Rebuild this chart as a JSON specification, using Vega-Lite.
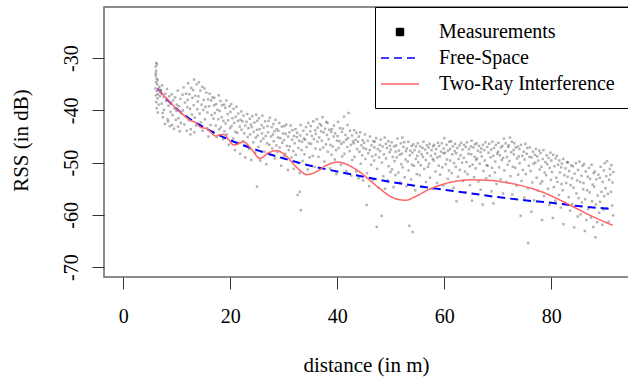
{
  "$schema": "https://vega.github.io/schema/vega-lite/v6.json",
  "autosize": {"type": "none"},
  "padding": {"left": 104, "top": 7, "right": 0, "bottom": 103},
  "width": 525,
  "height": 270,
  "background": "white",
  "config": {
    "font": "Liberation Serif",
    "view": {"stroke": "#666", "strokeWidth": 1.5},
    "legend": {
      "orient": "top-right", "offset": 0, "padding": 14,
      "strokeColor": "black", "fillColor": "white", "cornerRadius": 0,
      "labelFont": "Liberation Serif", "labelFontSize": 20, "labelColor": "black",
      "labelOffset": 28, "labelLimit": 400, "rowPadding": 5,
      "symbolSize": 400, "symbolStrokeWidth": 1.5, "symbolOpacity": 1
    }
  },
  "datasets": {
    "pts": [
      {"d":6.05,"r":-31.6},{"d":6.12,"r":-32.4},{"d":6.08,"r":-33.3},{"d":6.21,"r":-33.9},{"d":6.15,"r":-34.6},{"d":6.33,"r":-35.0},{"d":6.02,"r":-35.8},{"d":6.27,"r":-36.3},{"d":6.11,"r":-37.1},{"d":6.38,"r":-37.7},{"d":6.18,"r":-38.4},{"d":6.44,"r":-34.2},{"d":6.52,"r":-36.9},{"d":6.07,"r":-32.9},{"d":6.61,"r":-38.9},{"d":6.24,"r":-39.6},{"d":6.73,"r":-35.5},{"d":6.86,"r":-37.3},{"d":6.47,"r":-40.4},{"d":6.95,"r":-36.2},{"d":6.3,"r":-31.2},{"d":6.16,"r":-30.9},
      {"d":7.04,"r":-36.1},{"d":7.18,"r":-38.7},{"d":7.27,"r":-35.2},{"d":7.41,"r":-41.3},{"d":7.55,"r":-37.4},{"d":7.63,"r":-39.9},{"d":7.79,"r":-42.6},{"d":7.88,"r":-36.8},{"d":7.35,"r":-40.5},
      {"d":8.03,"r":-38.2},{"d":8.17,"r":-35.9},{"d":8.29,"r":-41.7},{"d":8.46,"r":-39.1},{"d":8.58,"r":-37.3},{"d":8.71,"r":-43.0},{"d":8.84,"r":-40.3},{"d":8.93,"r":-38.6},{"d":8.38,"r":-42.1},
      {"d":9.06,"r":-36.9},{"d":9.22,"r":-40.9},{"d":9.31,"r":-38.1},{"d":9.48,"r":-43.5},{"d":9.57,"r":-39.6},{"d":9.69,"r":-37.5},{"d":9.82,"r":-41.8},{"d":9.95,"r":-40.1},{"d":9.14,"r":-42.8},
      {"d":10.02,"r":-38.9},{"d":10.19,"r":-36.2},{"d":10.33,"r":-41.5},{"d":10.41,"r":-39.2},{"d":10.56,"r":-44.0},{"d":10.68,"r":-37.8},{"d":10.77,"r":-42.4},{"d":10.91,"r":-40.6},{"d":10.24,"r":-43.1},
      {"d":11.08,"r":-37.0},{"d":11.16,"r":-40.0},{"d":11.29,"r":-35.6},{"d":11.43,"r":-42.7},{"d":11.52,"r":-38.5},{"d":11.66,"r":-41.1},{"d":11.74,"r":-36.8},{"d":11.87,"r":-43.9},{"d":11.97,"r":-39.4},
      {"d":12.03,"r":-38.0},{"d":12.14,"r":-34.8},{"d":12.26,"r":-41.9},{"d":12.37,"r":-36.9},{"d":12.49,"r":-39.7},{"d":12.62,"r":-43.6},{"d":12.71,"r":-35.7},{"d":12.85,"r":-40.8},{"d":12.93,"r":-37.6},{"d":12.55,"r":-44.6},
      {"d":13.05,"r":-36.1},{"d":13.18,"r":-39.0},{"d":13.24,"r":-34.1},{"d":13.39,"r":-41.4},{"d":13.47,"r":-37.2},{"d":13.61,"r":-42.9},{"d":13.73,"r":-35.0},{"d":13.86,"r":-39.8},{"d":13.92,"r":-38.3},{"d":13.3,"r":-44.2},
      {"d":14.07,"r":-37.3},{"d":14.13,"r":-34.6},{"d":14.28,"r":-40.6},{"d":14.42,"r":-36.2},{"d":14.51,"r":-42.3},{"d":14.64,"r":-38.9},{"d":14.76,"r":-35.5},{"d":14.83,"r":-43.9},{"d":14.97,"r":-39.9},
      {"d":15.02,"r":-38.0},{"d":15.19,"r":-35.8},{"d":15.26,"r":-41.7},{"d":15.38,"r":-39.3},{"d":15.53,"r":-36.6},{"d":15.67,"r":-43.4},{"d":15.72,"r":-40.4},{"d":15.88,"r":-37.9},{"d":15.94,"r":-45.0},
      {"d":16.06,"r":-39.2},{"d":16.15,"r":-36.8},{"d":16.31,"r":-42.8},{"d":16.44,"r":-38.1},{"d":16.52,"r":-40.9},{"d":16.69,"r":-37.5},{"d":16.78,"r":-44.1},{"d":16.87,"r":-41.6},{"d":16.99,"r":-39.0},
      {"d":17.03,"r":-37.6},{"d":17.12,"r":-40.5},{"d":17.29,"r":-42.9},{"d":17.36,"r":-38.8},{"d":17.48,"r":-45.1},{"d":17.61,"r":-39.9},{"d":17.77,"r":-41.7},{"d":17.84,"r":-37.1},{"d":17.95,"r":-43.6},
      {"d":18.04,"r":-40.1},{"d":18.17,"r":-38.2},{"d":18.25,"r":-43.2},{"d":18.39,"r":-41.3},{"d":18.46,"r":-39.0},{"d":18.63,"r":-45.5},{"d":18.71,"r":-42.0},{"d":18.88,"r":-38.9},{"d":18.92,"r":-44.0},
      {"d":19.08,"r":-39.5},{"d":19.14,"r":-42.5},{"d":19.27,"r":-38.1},{"d":19.35,"r":-44.6},{"d":19.53,"r":-40.7},{"d":19.61,"r":-41.9},{"d":19.72,"r":-46.6},{"d":19.86,"r":-39.2},{"d":19.98,"r":-43.4},
      {"d":20.05,"r":-40.3},{"d":20.18,"r":-38.8},{"d":20.24,"r":-43.0},{"d":20.41,"r":-41.5},{"d":20.56,"r":-45.4},{"d":20.63,"r":-39.7},{"d":20.74,"r":-42.4},{"d":20.89,"r":-47.6},{"d":20.96,"r":-44.1},
      {"d":21.02,"r":-41.2},{"d":21.16,"r":-39.3},{"d":21.33,"r":-44.3},{"d":21.45,"r":-42.0},{"d":21.51,"r":-40.6},{"d":21.68,"r":-46.2},{"d":21.77,"r":-43.1},{"d":21.85,"r":-48.3},{"d":21.93,"r":-41.8},
      {"d":22.07,"r":-40.2},{"d":22.11,"r":-43.7},{"d":22.29,"r":-42.1},{"d":22.38,"r":-45.9},{"d":22.47,"r":-41.0},{"d":22.62,"r":-44.4},{"d":22.79,"r":-49.0},{"d":22.83,"r":-42.9},{"d":22.95,"r":-46.7},
      {"d":23.04,"r":-42.2},{"d":23.19,"r":-40.7},{"d":23.26,"r":-45.1},{"d":23.4,"r":-43.4},{"d":23.58,"r":-47.4},{"d":23.66,"r":-41.6},{"d":23.71,"r":-44.6},{"d":23.87,"r":-42.7},{"d":23.94,"r":-49.5},
      {"d":24.03,"r":-43.2},{"d":24.13,"r":-41.1},{"d":24.31,"r":-46.1},{"d":24.39,"r":-44.1},{"d":24.52,"r":-42.3},{"d":24.65,"r":-48.1},{"d":24.78,"r":-45.2},{"d":24.84,"r":-40.8},{"d":24.99,"r":-43.7},
      {"d":25.06,"r":-42.0},{"d":25.15,"r":-44.8},{"d":25.27,"r":-47.0},{"d":25.38,"r":-41.5},{"d":25.5,"r":-43.6},{"d":25.61,"r":-49.6},{"d":25.74,"r":-45.9},{"d":25.86,"r":-42.8},{"d":25.93,"r":-44.4},{"d":25.0,"r":-54.6},
      {"d":26.02,"r":-41.0},{"d":26.18,"r":-45.4},{"d":26.23,"r":-43.3},{"d":26.4,"r":-47.9},{"d":26.52,"r":-42.1},{"d":26.63,"r":-44.9},{"d":26.75,"r":-50.3},{"d":26.88,"r":-46.3},{"d":26.96,"r":-43.0},
      {"d":27.05,"r":-44.2},{"d":27.17,"r":-42.0},{"d":27.31,"r":-46.6},{"d":27.42,"r":-41.4},{"d":27.55,"r":-48.5},{"d":27.64,"r":-45.0},{"d":27.76,"r":-43.2},{"d":27.84,"r":-47.3},{"d":27.97,"r":-44.6},
      {"d":28.08,"r":-42.6},{"d":28.13,"r":-45.9},{"d":28.27,"r":-44.0},{"d":28.35,"r":-49.2},{"d":28.49,"r":-41.8},{"d":28.62,"r":-46.7},{"d":28.7,"r":-43.6},{"d":28.81,"r":-48.0},{"d":28.94,"r":-45.2},
      {"d":29.01,"r":-43.9},{"d":29.16,"r":-42.4},{"d":29.24,"r":-47.1},{"d":29.37,"r":-45.3},{"d":29.53,"r":-50.6},{"d":29.65,"r":-43.1},{"d":29.72,"r":-46.2},{"d":29.88,"r":-44.4},{"d":29.99,"r":-48.8},
      {"d":30.04,"r":-45.7},{"d":30.12,"r":-43.0},{"d":30.28,"r":-48.3},{"d":30.36,"r":-44.5},{"d":30.47,"r":-42.7},{"d":30.61,"r":-46.8},{"d":30.77,"r":-51.4},{"d":30.83,"r":-45.0},{"d":30.95,"r":-47.6},
      {"d":31.06,"r":-44.2},{"d":31.14,"r":-46.9},{"d":31.3,"r":-42.9},{"d":31.42,"r":-49.0},{"d":31.57,"r":-45.6},{"d":31.63,"r":-43.8},{"d":31.79,"r":-47.8},{"d":31.86,"r":-51.2},{"d":31.91,"r":-44.9},
      {"d":32.03,"r":-46.3},{"d":32.19,"r":-43.6},{"d":32.25,"r":-48.5},{"d":32.44,"r":-45.1},{"d":32.51,"r":-44.3},{"d":32.66,"r":-50.1},{"d":32.72,"r":-47.2},{"d":32.88,"r":-45.8},{"d":32.97,"r":-52.0},{"d":32.6,"r":-56.2},
      {"d":33.07,"r":-44.8},{"d":33.15,"r":-42.8},{"d":33.34,"r":-47.6},{"d":33.41,"r":-46.0},{"d":33.52,"r":-49.7},{"d":33.68,"r":-43.9},{"d":33.75,"r":-45.4},{"d":33.89,"r":-48.4},{"d":33.0,"r":-55.6},{"d":33.2,"r":-59.1},
      {"d":34.02,"r":-45.6},{"d":34.16,"r":-43.2},{"d":34.27,"r":-47.0},{"d":34.33,"r":-44.6},{"d":34.49,"r":-51.3},{"d":34.58,"r":-42.4},{"d":34.71,"r":-46.3},{"d":34.83,"r":-49.0},{"d":34.96,"r":-44.0},
      {"d":35.05,"r":-43.0},{"d":35.13,"r":-46.4},{"d":35.26,"r":-44.9},{"d":35.43,"r":-48.7},{"d":35.52,"r":-42.1},{"d":35.64,"r":-45.5},{"d":35.78,"r":-50.8},{"d":35.87,"r":-43.8},{"d":35.92,"r":-47.3},
      {"d":36.01,"r":-44.5},{"d":36.17,"r":-41.7},{"d":36.29,"r":-46.0},{"d":36.36,"r":-43.3},{"d":36.5,"r":-48.9},{"d":36.62,"r":-45.2},{"d":36.73,"r":-42.6},{"d":36.81,"r":-47.5},{"d":36.98,"r":-44.0},
      {"d":37.04,"r":-42.9},{"d":37.13,"r":-45.8},{"d":37.25,"r":-41.3},{"d":37.38,"r":-47.1},{"d":37.46,"r":-44.2},{"d":37.61,"r":-49.8},{"d":37.74,"r":-43.5},{"d":37.89,"r":-46.5},{"d":37.95,"r":-42.2},
      {"d":38.09,"r":-44.7},{"d":38.18,"r":-42.4},{"d":38.24,"r":-47.9},{"d":38.4,"r":-45.5},{"d":38.53,"r":-43.7},{"d":38.67,"r":-51.1},{"d":38.72,"r":-46.6},{"d":38.85,"r":-44.1},{"d":38.93,"r":-48.5},
      {"d":39.02,"r":-43.6},{"d":39.15,"r":-46.9},{"d":39.33,"r":-45.0},{"d":39.38,"r":-42.9},{"d":39.55,"r":-49.4},{"d":39.61,"r":-44.4},{"d":39.79,"r":-47.6},{"d":39.84,"r":-52.2},{"d":39.97,"r":-45.8},
      {"d":40.06,"r":-44.9},{"d":40.14,"r":-42.2},{"d":40.27,"r":-47.2},{"d":40.43,"r":-45.9},{"d":40.51,"r":-43.4},{"d":40.68,"r":-50.4},{"d":40.75,"r":-46.4},{"d":40.86,"r":-44.1},{"d":40.93,"r":-48.8},
      {"d":41.05,"r":-43.5},{"d":41.19,"r":-46.1},{"d":41.28,"r":-41.2},{"d":41.36,"r":-48.3},{"d":41.54,"r":-44.7},{"d":41.67,"r":-45.6},{"d":41.71,"r":-51.6},{"d":41.88,"r":-47.0},{"d":41.94,"r":-42.8},
      {"d":42.03,"r":-45.3},{"d":42.12,"r":-40.5},{"d":42.31,"r":-47.8},{"d":42.39,"r":-43.9},{"d":42.56,"r":-46.6},{"d":42.64,"r":-52.5},{"d":42.77,"r":-44.8},{"d":42.82,"r":-49.5},{"d":42.96,"r":-45.9},
      {"d":43.08,"r":-46.3},{"d":43.17,"r":-43.8},{"d":43.24,"r":-48.9},{"d":43.42,"r":-45.6},{"d":43.55,"r":-51.7},{"d":43.6,"r":-44.3},{"d":43.73,"r":-47.4},{"d":43.87,"r":-46.0},{"d":43.99,"r":-53.0},
      {"d":44.04,"r":-45.0},{"d":44.16,"r":-47.9},{"d":44.3,"r":-44.2},{"d":44.41,"r":-50.2},{"d":44.53,"r":-46.7},{"d":44.66,"r":-48.6},{"d":44.78,"r":-45.7},{"d":44.85,"r":-53.4},{"d":44.92,"r":-47.2},
      {"d":45.02,"r":-46.2},{"d":45.18,"r":-44.6},{"d":45.26,"r":-49.3},{"d":45.39,"r":-47.4},{"d":45.5,"r":-58.1},{"d":45.57,"r":-52.0},{"d":45.69,"r":-45.8},{"d":45.81,"r":-48.2},{"d":45.96,"r":-54.5},
      {"d":46.07,"r":-47.6},{"d":46.13,"r":-45.0},{"d":46.34,"r":-50.4},{"d":46.41,"r":-46.7},{"d":46.52,"r":-48.8},{"d":46.66,"r":-53.3},{"d":46.74,"r":-45.9},{"d":46.89,"r":-49.6},{"d":46.95,"r":-47.1},
      {"d":47.05,"r":-46.0},{"d":47.16,"r":-48.5},{"d":47.28,"r":-45.3},{"d":47.4,"r":-62.3},{"d":47.47,"r":-51.2},{"d":47.58,"r":-47.4},{"d":47.7,"r":-54.8},{"d":47.83,"r":-49.0},{"d":47.97,"r":-46.6},
      {"d":48.01,"r":-47.8},{"d":48.15,"r":-45.6},{"d":48.3,"r":-60.2},{"d":48.36,"r":-50.0},{"d":48.49,"r":-46.9},{"d":48.62,"r":-52.6},{"d":48.73,"r":-48.4},{"d":48.86,"r":-45.2},{"d":48.94,"r":-55.0},
      {"d":49.09,"r":-46.4},{"d":49.13,"r":-49.2},{"d":49.29,"r":-47.2},{"d":49.42,"r":-53.4},{"d":49.56,"r":-45.9},{"d":49.63,"r":-50.7},{"d":49.78,"r":-48.0},{"d":49.84,"r":-46.8},{"d":49.96,"r":-51.8},
      {"d":50.04,"r":-47.5},{"d":50.17,"r":-46.1},{"d":50.26,"r":-51.3},{"d":50.38,"r":-48.9},{"d":50.51,"r":-54.7},{"d":50.64,"r":-46.9},{"d":50.72,"r":-49.7},{"d":50.87,"r":-52.4},{"d":50.93,"r":-47.9},
      {"d":51.03,"r":-46.7},{"d":51.12,"r":-49.0},{"d":51.27,"r":-45.4},{"d":51.44,"r":-51.9},{"d":51.53,"r":-47.7},{"d":51.65,"r":-48.5},{"d":51.76,"r":-53.8},{"d":51.89,"r":-46.3},{"d":51.98,"r":-50.3},
      {"d":52.06,"r":-48.3},{"d":52.19,"r":-45.2},{"d":52.24,"r":-50.9},{"d":52.37,"r":-47.0},{"d":52.52,"r":-46.1},{"d":52.61,"r":-52.8},{"d":52.79,"r":-49.4},{"d":52.85,"r":-47.8},{"d":52.94,"r":-54.5},
      {"d":53.01,"r":-47.3},{"d":53.18,"r":-49.8},{"d":53.28,"r":-46.0},{"d":53.35,"r":-51.5},{"d":53.5,"r":-62.1},{"d":53.57,"r":-48.6},{"d":53.66,"r":-47.7},{"d":53.82,"r":-53.2},{"d":53.91,"r":-46.8},{"d":53.97,"r":-50.4},
      {"d":54.05,"r":-48.1},{"d":54.1,"r":-63.3},{"d":54.23,"r":-46.5},{"d":54.34,"r":-50.6},{"d":54.46,"r":-47.6},{"d":54.58,"r":-55.3},{"d":54.69,"r":-49.3},{"d":54.74,"r":-46.9},{"d":54.87,"r":-52.2},{"d":54.96,"r":-48.7},
      {"d":55.07,"r":-46.3},{"d":55.15,"r":-49.9},{"d":55.33,"r":-47.9},{"d":55.41,"r":-52.4},{"d":55.54,"r":-46.9},{"d":55.62,"r":-50.5},{"d":55.77,"r":-48.4},{"d":55.88,"r":-54.6},{"d":55.95,"r":-47.2},
      {"d":56.02,"r":-48.9},{"d":56.14,"r":-46.0},{"d":56.27,"r":-51.2},{"d":56.43,"r":-47.5},{"d":56.55,"r":-49.5},{"d":56.61,"r":-53.7},{"d":56.78,"r":-46.7},{"d":56.84,"r":-48.2},{"d":56.97,"r":-50.8},
      {"d":57.08,"r":-47.1},{"d":57.17,"r":-50.2},{"d":57.29,"r":-46.4},{"d":57.35,"r":-52.9},{"d":57.52,"r":-48.7},{"d":57.64,"r":-47.6},{"d":57.73,"r":-55.0},{"d":57.86,"r":-49.3},{"d":57.92,"r":-46.9},
      {"d":58.04,"r":-49.6},{"d":58.11,"r":-46.6},{"d":58.32,"r":-48.3},{"d":58.38,"r":-51.7},{"d":58.49,"r":-47.4},{"d":58.65,"r":-53.9},{"d":58.71,"r":-49.0},{"d":58.83,"r":-46.2},{"d":58.98,"r":-50.6},
      {"d":59.06,"r":-46.8},{"d":59.19,"r":-48.8},{"d":59.24,"r":-52.3},{"d":59.41,"r":-47.9},{"d":59.56,"r":-46.3},{"d":59.63,"r":-50.9},{"d":59.79,"r":-54.4},{"d":59.87,"r":-48.2},{"d":59.91,"r":-47.3},
      {"d":60.03,"r":-45.3},{"d":60.16,"r":-48.1},{"d":60.28,"r":-50.3},{"d":60.44,"r":-46.6},{"d":60.53,"r":-49.4},{"d":60.67,"r":-53.1},{"d":60.72,"r":-47.7},{"d":60.88,"r":-51.5},{"d":60.95,"r":-46.0},
      {"d":61.09,"r":-47.4},{"d":61.13,"r":-49.6},{"d":61.3,"r":-45.9},{"d":61.39,"r":-52.0},{"d":61.51,"r":-48.4},{"d":61.62,"r":-46.9},{"d":61.76,"r":-54.8},{"d":61.84,"r":-50.1},{"d":61.97,"r":-47.8},
      {"d":62.01,"r":-46.4},{"d":62.18,"r":-50.8},{"d":62.25,"r":-48.2},{"d":62.3,"r":-57.4},{"d":62.46,"r":-47.2},{"d":62.57,"r":-52.7},{"d":62.7,"r":-49.3},{"d":62.86,"r":-46.7},{"d":62.94,"r":-51.4},
      {"d":63.05,"r":-48.6},{"d":63.14,"r":-46.2},{"d":63.33,"r":-50.0},{"d":63.42,"r":-47.5},{"d":63.54,"r":-53.5},{"d":63.66,"r":-49.1},{"d":63.71,"r":-46.6},{"d":63.89,"r":-51.7},{"d":63.96,"r":-55.7},
      {"d":64.02,"r":-47.0},{"d":64.17,"r":-49.9},{"d":64.26,"r":-46.1},{"d":64.37,"r":-52.2},{"d":64.55,"r":-48.3},{"d":64.63,"r":-47.4},{"d":64.78,"r":-50.7},{"d":64.81,"r":-54.3},{"d":64.99,"r":-46.9},
      {"d":65.04,"r":-48.4},{"d":65.12,"r":-45.8},{"d":65.2,"r":-57.3},{"d":65.31,"r":-50.4},{"d":65.45,"r":-47.1},{"d":65.58,"r":-52.8},{"d":65.69,"r":-48.9},{"d":65.73,"r":-46.5},{"d":65.88,"r":-51.1},{"d":65.97,"r":-49.5},
      {"d":66.07,"r":-46.3},{"d":66.15,"r":-49.2},{"d":66.28,"r":-47.7},{"d":66.42,"r":-53.6},{"d":66.51,"r":-46.8},{"d":66.64,"r":-50.2},{"d":66.79,"r":-48.0},{"d":66.82,"r":-55.2},{"d":66.93,"r":-47.3},
      {"d":67.02,"r":-48.8},{"d":67.2,"r":-58.0},{"d":67.24,"r":-46.6},{"d":67.36,"r":-51.6},{"d":67.47,"r":-47.6},{"d":67.59,"r":-49.6},{"d":67.71,"r":-46.1},{"d":67.85,"r":-53.0},{"d":67.94,"r":-50.5},
      {"d":68.05,"r":-47.0},{"d":68.13,"r":-50.6},{"d":68.29,"r":-48.1},{"d":68.41,"r":-46.4},{"d":68.52,"r":-52.5},{"d":68.68,"r":-49.0},{"d":68.77,"r":-47.5},{"d":68.86,"r":-55.5},{"d":68.95,"r":-51.0},
      {"d":69.01,"r":-46.0},{"d":69.16,"r":-48.7},{"d":69.2,"r":-57.8},{"d":69.32,"r":-47.2},{"d":69.48,"r":-51.9},{"d":69.54,"r":-49.8},{"d":69.67,"r":-46.6},{"d":69.79,"r":-54.1},{"d":69.92,"r":-48.3},
      {"d":70.08,"r":-47.9},{"d":70.14,"r":-46.2},{"d":70.27,"r":-50.9},{"d":70.39,"r":-48.6},{"d":70.55,"r":-53.2},{"d":70.61,"r":-47.1},{"d":70.76,"r":-49.5},{"d":70.88,"r":-46.8},{"d":70.99,"r":-55.9},
      {"d":71.03,"r":-49.1},{"d":71.17,"r":-45.4},{"d":71.26,"r":-51.5},{"d":71.43,"r":-47.8},{"d":71.5,"r":-46.3},{"d":71.63,"r":-53.7},{"d":71.74,"r":-48.9},{"d":71.85,"r":-50.4},{"d":71.96,"r":-47.0},
      {"d":72.06,"r":-46.7},{"d":72.19,"r":-49.7},{"d":72.3,"r":-45.2},{"d":72.38,"r":-52.6},{"d":72.52,"r":-48.0},{"d":72.66,"r":-46.0},{"d":72.73,"r":-56.1},{"d":72.84,"r":-50.8},{"d":72.97,"r":-47.6},
      {"d":73.02,"r":-48.4},{"d":73.11,"r":-46.3},{"d":73.29,"r":-51.0},{"d":73.37,"r":-47.1},{"d":73.49,"r":-54.4},{"d":73.61,"r":-49.2},{"d":73.78,"r":-46.9},{"d":73.83,"r":-52.3},{"d":73.94,"r":-48.8},
      {"d":74.07,"r":-47.4},{"d":74.12,"r":-50.1},{"d":74.3,"r":-60.2},{"d":74.35,"r":-46.6},{"d":74.46,"r":-53.5},{"d":74.59,"r":-48.7},{"d":74.72,"r":-51.4},{"d":74.87,"r":-47.9},{"d":74.98,"r":-56.7},
      {"d":75.04,"r":-49.4},{"d":75.18,"r":-46.4},{"d":75.25,"r":-52.2},{"d":75.41,"r":-48.3},{"d":75.53,"r":-47.2},{"d":75.64,"r":-54.9},{"d":75.7,"r":-65.4},{"d":75.82,"r":-50.6},{"d":75.93,"r":-48.9},
      {"d":76.03,"r":-47.1},{"d":76.16,"r":-51.6},{"d":76.3,"r":-59.4},{"d":76.34,"r":-49.0},{"d":76.48,"r":-53.8},{"d":76.57,"r":-47.9},{"d":76.69,"r":-50.2},{"d":76.81,"r":-57.2},{"d":76.96,"r":-48.5},
      {"d":77.05,"r":-50.0},{"d":77.14,"r":-47.4},{"d":77.28,"r":-52.9},{"d":77.39,"r":-48.8},{"d":77.55,"r":-55.4},{"d":77.62,"r":-49.6},{"d":77.77,"r":-47.7},{"d":77.86,"r":-51.3},{"d":77.99,"r":-54.0},
      {"d":78.02,"r":-48.2},{"d":78.19,"r":-50.8},{"d":78.3,"r":-61.0},{"d":78.33,"r":-53.6},{"d":78.44,"r":-49.3},{"d":78.56,"r":-47.6},{"d":78.68,"r":-56.4},{"d":78.79,"r":-51.9},{"d":78.91,"r":-49.9},
      {"d":79.08,"r":-52.4},{"d":79.15,"r":-48.6},{"d":79.26,"r":-50.3},{"d":79.43,"r":-55.0},{"d":79.51,"r":-49.1},{"d":79.67,"r":-58.1},{"d":79.72,"r":-51.0},{"d":79.84,"r":-48.1},{"d":79.95,"r":-53.3},
      {"d":80.03,"r":-49.6},{"d":80.14,"r":-51.8},{"d":80.3,"r":-60.6},{"d":80.37,"r":-48.5},{"d":80.49,"r":-54.7},{"d":80.6,"r":-50.7},{"d":80.77,"r":-57.3},{"d":80.83,"r":-49.2},{"d":80.96,"r":-52.9},
      {"d":81.06,"r":-48.7},{"d":81.18,"r":-53.7},{"d":81.27,"r":-50.4},{"d":81.45,"r":-56.2},{"d":81.52,"r":-49.6},{"d":81.64,"r":-51.9},{"d":81.78,"r":-58.6},{"d":81.87,"r":-50.9},{"d":81.93,"r":-54.1},
      {"d":82.01,"r":-50.2},{"d":82.17,"r":-55.3},{"d":82.25,"r":-49.3},{"d":82.3,"r":-61.8},{"d":82.47,"r":-52.4},{"d":82.58,"r":-57.7},{"d":82.69,"r":-51.1},{"d":82.81,"r":-53.9},{"d":82.98,"r":-49.9},
      {"d":83.07,"r":-52.7},{"d":83.12,"r":-50.0},{"d":83.29,"r":-56.6},{"d":83.36,"r":-51.6},{"d":83.53,"r":-59.2},{"d":83.64,"r":-54.3},{"d":83.75,"r":-50.5},{"d":83.89,"r":-53.0},{"d":83.94,"r":-57.9},
      {"d":84.05,"r":-50.7},{"d":84.18,"r":-54.8},{"d":84.3,"r":-62.4},{"d":84.37,"r":-52.1},{"d":84.44,"r":-58.5},{"d":84.61,"r":-50.1},{"d":84.72,"r":-55.9},{"d":84.85,"r":-53.4},{"d":84.97,"r":-60.3},
      {"d":85.02,"r":-51.4},{"d":85.13,"r":-56.8},{"d":85.28,"r":-49.8},{"d":85.42,"r":-53.7},{"d":85.51,"r":-59.9},{"d":85.67,"r":-52.5},{"d":85.73,"r":-57.6},{"d":85.86,"r":-50.6},{"d":85.99,"r":-55.1},
      {"d":86.04,"r":-53.9},{"d":86.15,"r":-50.3},{"d":86.3,"r":-63.1},{"d":86.35,"r":-57.0},{"d":86.47,"r":-51.7},{"d":86.58,"r":-61.0},{"d":86.71,"r":-55.3},{"d":86.84,"r":-52.7},{"d":86.92,"r":-58.9},
      {"d":87.06,"r":-51.0},{"d":87.19,"r":-55.7},{"d":87.27,"r":-53.1},{"d":87.43,"r":-60.5},{"d":87.55,"r":-50.4},{"d":87.62,"r":-57.4},{"d":87.76,"r":-54.2},{"d":87.87,"r":-62.3},{"d":87.95,"r":-52.0},
      {"d":88.03,"r":-54.6},{"d":88.16,"r":-51.7},{"d":88.3,"r":-64.3},{"d":88.34,"r":-58.0},{"d":88.46,"r":-53.2},{"d":88.59,"r":-61.4},{"d":88.7,"r":-56.3},{"d":88.82,"r":-52.3},{"d":88.97,"r":-59.6},
      {"d":89.08,"r":-52.9},{"d":89.14,"r":-57.5},{"d":89.25,"r":-50.8},{"d":89.4,"r":-55.6},{"d":89.57,"r":-61.9},{"d":89.63,"r":-53.7},{"d":89.78,"r":-59.0},{"d":89.85,"r":-51.5},{"d":89.93,"r":-56.4},
      {"d":90.02,"r":-50.1},{"d":90.17,"r":-54.9},{"d":90.29,"r":-52.6},{"d":90.36,"r":-58.7},{"d":90.45,"r":-49.7},{"d":90.61,"r":-56.0},{"d":90.73,"r":-61.3},{"d":90.84,"r":-53.3},{"d":90.96,"r":-51.2},
      {"d":91.05,"r":-52.3},{"d":91.18,"r":-55.6},{"d":91.26,"r":-50.5},{"d":91.39,"r":-58.2},{"d":91.47,"r":-53.8},{"d":91.58,"r":-60.1},{"d":91.63,"r":-51.8}
    ],
    "fs": [
      {"d":6.4,"r":-35.8},{"d":8,"r":-37.7},{"d":10,"r":-39.7},{"d":12,"r":-41.3},{"d":15,"r":-43.2},{"d":20,"r":-45.7},{"d":25,"r":-47.6},{"d":30,"r":-49.2},{"d":35,"r":-50.6},{"d":40,"r":-51.7},{"d":45,"r":-52.7},{"d":50,"r":-53.7},{"d":55,"r":-54.5},{"d":60,"r":-55.2},{"d":65,"r":-55.9},{"d":70,"r":-56.6},{"d":75,"r":-57.2},{"d":80,"r":-57.7},{"d":85,"r":-58.3},{"d":91.5,"r":-58.9}
    ],
    "tr": [
      {"d":6.4,"r":-35.8},{"d":8,"r":-37.6},{"d":9.5,"r":-39.2},{"d":11,"r":-40.6},{"d":12.5,"r":-41.9},{"d":13.5,"r":-42.3},{"d":14.4,"r":-43.2},{"d":15.6,"r":-43.5},{"d":16.4,"r":-44.2},{"d":17.2,"r":-44.9},{"d":18.0,"r":-44.7},{"d":18.8,"r":-44.6},{"d":19.7,"r":-45.6},{"d":20.6,"r":-46.6},{"d":21.5,"r":-46.4},{"d":22.5,"r":-46.0},{"d":23.8,"r":-47.2},{"d":25.6,"r":-49.2},{"d":27.0,"r":-48.2},{"d":28.7,"r":-47.7},{"d":30.5,"r":-48.8},{"d":32.5,"r":-51.0},{"d":34.4,"r":-52.3},{"d":36.0,"r":-51.8},{"d":38.0,"r":-50.5},{"d":40.0,"r":-49.9},{"d":41.5,"r":-50.2},{"d":43.0,"r":-51.0},{"d":44.5,"r":-52.0},{"d":46.0,"r":-53.3},{"d":48.0,"r":-55.0},{"d":50.0,"r":-56.5},{"d":52.7,"r":-57.2},{"d":55.0,"r":-56.3},{"d":57.0,"r":-55.2},{"d":59.3,"r":-54.3},{"d":62.0,"r":-53.6},{"d":65.0,"r":-53.3},{"d":68.5,"r":-53.4},{"d":71.5,"r":-53.8},{"d":74.8,"r":-54.5},{"d":78.0,"r":-55.5},{"d":81.1,"r":-56.9},{"d":84.2,"r":-58.5},{"d":87.5,"r":-60.2},{"d":91.5,"r":-62.0}
    ]
  },
  "encoding": {
    "x": {
      "field": "d", "type": "quantitative",
      "scale": {"domain": [-3.6, 94.55], "nice": false, "zero": false},
      "axis": {
        "values": [0, 20, 40, 60, 80], "grid": false, "domain": false,
        "tickSize": 12, "tickColor": "#333", "labelFlush": false, "labelOverlap": false,
        "labelFont": "Liberation Serif", "labelFontSize": 20, "labelColor": "black",
        "labelBaseline": "alphabetic", "labelPadding": 33,
        "title": "distance (in m)", "titleFont": "Liberation Serif", "titleFontSize": 21,
        "titleFontWeight": "normal", "titleColor": "black", "titleBaseline": "alphabetic",
        "titleX": 262, "titleY": 94
      }
    },
    "y": {
      "field": "r", "type": "quantitative",
      "scale": {"domain": [-71.9, -20.2], "nice": false, "zero": false},
      "axis": {
        "values": [-30, -40, -50, -60, -70], "grid": false, "domain": false,
        "tickSize": 12, "tickColor": "#333", "labelFlush": false, "labelOverlap": false,
        "labelExpr": "'' + datum.value",
        "labelFont": "Liberation Serif", "labelFontSize": 20, "labelColor": "black",
        "labelAngle": -90, "labelAlign": "center", "labelBaseline": "alphabetic", "labelPadding": 15,
        "title": "RSS (in dB)", "titleFont": "Liberation Serif", "titleFontSize": 21,
        "titleFontWeight": "normal", "titleColor": "black", "titleAngle": -90,
        "titleBaseline": "alphabetic", "titleAlign": "center", "titleX": -77, "titleY": 133
      }
    }
  },
  "layer": [
    {
      "data": {"name": "pts"},
      "mark": {"type": "point", "filled": true, "size": 50, "opacity": 0.3},
      "encoding": {
        "color": {
          "datum": "Measurements", "type": "nominal",
          "scale": {"domain": ["Measurements", "Free-Space", "Two-Ray Interference"], "range": ["#000000", "#0000ff", "#ff6464"]},
          "legend": {"title": null, "symbolOpacity": 1}
        },
        "shape": {
          "datum": "Measurements", "type": "nominal",
          "scale": {"domain": ["Measurements", "Free-Space", "Two-Ray Interference"], "range": ["M-0.35,-0.35H0.35V0.35H-0.35Z", "M-1.9,0H1.9", "M-1.9,0H1.9"]},
          "legend": {"title": null, "symbolOpacity": 1}
        }
      }
    },
    {
      "data": {"name": "fs"},
      "mark": {"type": "line", "strokeWidth": 2, "interpolate": "monotone"},
      "encoding": {
        "color": {"datum": "Free-Space", "type": "nominal"},
        "strokeDash": {
          "datum": "Free-Space", "type": "nominal",
          "scale": {"domain": ["Measurements", "Free-Space", "Two-Ray Interference"], "range": [[1, 0], [8, 5], [1, 0]]},
          "legend": {"title": null, "symbolOpacity": 1}
        }
      }
    },
    {
      "data": {"name": "tr"},
      "mark": {"type": "line", "strokeWidth": 1.5, "interpolate": "monotone"},
      "encoding": {
        "color": {"datum": "Two-Ray Interference", "type": "nominal"},
        "strokeDash": {"datum": "Two-Ray Interference", "type": "nominal"}
      }
    }
  ]
}
